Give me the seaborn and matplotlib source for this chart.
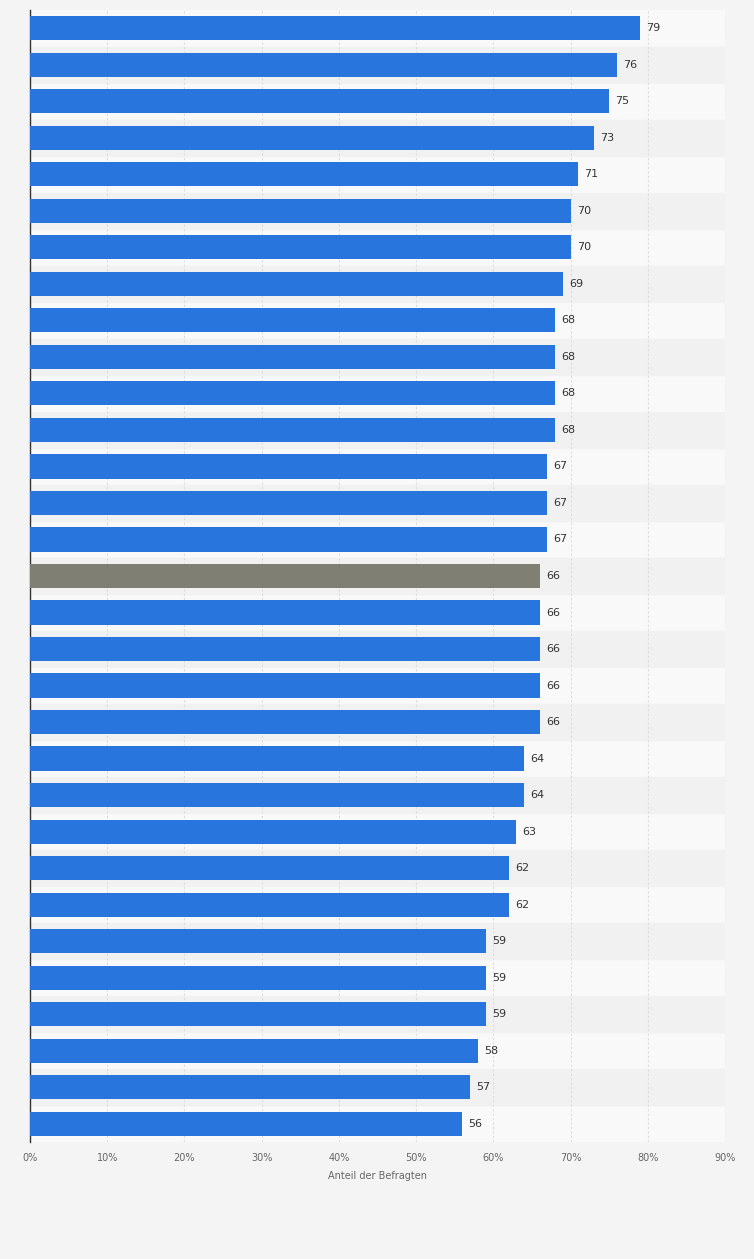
import matplotlib
matplotlib.use("Agg")
import matplotlib.pyplot as plt
import seaborn as sns
import pandas as pd

categories = [f"Kategorie {i+1}" for i in range(31)]
values = [79, 76, 75, 73, 71, 70, 70, 69, 68, 68, 68, 68, 67, 67, 67, 66, 66, 66, 66, 66,
          64, 64, 63, 62, 62, 59, 59, 59, 58, 57, 56]
highlight_index = 15
xticks = [0, 10, 20, 30, 40, 50, 60, 70, 80, 90]
xticklabels = [f"{t}%" for t in xticks]

df = pd.DataFrame({"cat": categories, "val": values})
palette = ["#7f7f73" if i == highlight_index else "#2876dd" for i in range(len(values))]

fig = plt.figure(figsize=(7.54, 12.59), dpi=100, facecolor="#f4f4f4")
ax = fig.add_axes([0.0398, 0.093, 0.9217, 0.899])
ax.set_facecolor("#f9f9f9")

for i in range(len(values)):
    if i % 2 == 1:
        ax.axhspan(i - 0.5, i + 0.5, color="#f1f1f1", zorder=0)

sns.barplot(data=df, x="val", y="cat", hue="cat", palette=palette, legend=False,
            orient="h", width=0.66, ax=ax, zorder=3, saturation=1)

for i, v in enumerate(values):
    ax.text(v + 0.8, i, str(v), va="center", ha="left", fontsize=8, color="#333333", zorder=4)

ax.set_xlim(0, 90)
ax.set_ylim(len(values) - 0.5, -0.5)
ax.set_xticks(xticks)
ax.set_xticklabels(xticklabels, fontsize=7, color="#666666")
ax.set_yticks([])
ax.set_ylabel("")
ax.set_xlabel("Anteil der Befragten", fontsize=7, color="#666666", labelpad=6)
ax.tick_params(axis="x", length=0, pad=8)
ax.grid(axis="x", color="#dddddd", linestyle=(0, (2, 2)), linewidth=0.8, zorder=1)
ax.set_axisbelow(True)
for s in ["top", "right", "bottom"]:
    ax.spines[s].set_visible(False)
ax.spines["left"].set_color("#333333")
ax.spines["left"].set_linewidth(1)

fig.savefig("out.png", dpi=100, facecolor=fig.get_facecolor())
